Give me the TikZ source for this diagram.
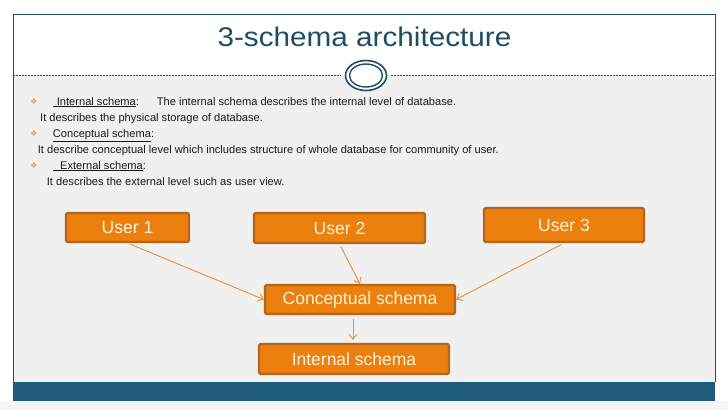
\documentclass[tikz,border=0pt]{standalone}
\usepackage{fontspec}
\setmainfont{Liberation Sans}
\newfontfamily\bulletfont{DejaVu Sans}
\usetikzlibrary{arrows.meta,calc}
\definecolor{framec}{HTML}{1F4D63}
\definecolor{titlec}{HTML}{1F4D63}
\definecolor{bandc}{HTML}{1F5B7C}
\definecolor{bgc}{HTML}{F0F0F0}
\definecolor{boxfill}{HTML}{EB800F}
\definecolor{boxline}{HTML}{B5651D}
\definecolor{boxtext}{HTML}{FFF3D9}
\definecolor{arrowc}{HTML}{E8913A}
\definecolor{bulletc}{HTML}{F0A050}
\definecolor{bodytext}{HTML}{1A1A1A}
\tikzset{
  obox/.style={draw=boxline, line width=2.2pt, fill=boxfill, rounded corners=1.5pt,
    inner sep=0pt, text=boxtext, font=\fontsize{17.5}{20}\selectfont},
  conn/.style={draw=arrowc, line width=0.9pt, -{Straight Barb[length=5pt,width=8pt]}},
  body/.style={anchor=base west, inner sep=0pt, text=bodytext, font=\fontsize{11.1}{13}\selectfont},
  bul/.style={inner sep=0pt, text=bulletc, font=\bulletfont\fontsize{8}{9}\selectfont}
}
\begin{document}
\begin{tikzpicture}[x=1pt,y=-1pt]
\useasboundingbox (0,0) rectangle (728,410);
% backgrounds
\fill[white] (0,0) rectangle (728,410);
\fill[bgc] (13,75) rectangle (715,382);
\fill[bgc!60] (0,401) rectangle (728,410);
% frame
\draw[framec, line width=0.8pt] (13,382) -- (13,14) -- (715,14) -- (715,382);
\fill[bandc] (13,382) rectangle (715,401);
% title
\node[inner sep=0pt, text=titlec, font=\fontsize{27}{30}\selectfont, anchor=base] (title) at (364.5,46) {\scalebox{1.1}[1]{3-schema architecture}};
% dashed divider with double ellipse
\draw[framec, line width=0.6pt, dash pattern=on 2pt off 1pt] (13,75) -- (341,75);
\draw[framec, line width=0.6pt, dash pattern=on 2pt off 1pt] (391,75) -- (715,75);
\draw[framec, line width=1.6pt, fill=white] (366,75.5) ellipse [x radius=20.5, y radius=15];
\draw[framec, line width=1.4pt] (366,75.5) ellipse [x radius=16.5, y radius=11.5];
% bullets and text
\node[bul] (b1) at (34,102) {❖};
\node[body] (t1a) at (52.7,105) {\underline{\hspace{4pt}Internal schema}:};
\node[body] (t1b) at (156.7,105) {The internal schema describes the internal level of database.};
\node[body] (t2) at (40,121) {It describes the physical storage of database.};
\node[bul] (b2) at (34,134) {❖};
\node[body] (t3) at (52.7,137) {\underline{Conceptual schema}:};
\node[body] (t4) at (37.7,153) {It describe conceptual level which includes structure of whole database for community of user.};
\node[bul] (b3) at (34,166) {❖};
\node[body] (t5) at (53,169) {\underline{\hspace{7pt}External schema}:};
\node[body] (t6) at (46.7,185) {It describes the external level such as user view.};
% boxes
\node[obox, minimum width=123pt, minimum height=29pt] (u1) at (127.5,227.5) {User 1};
\node[obox, minimum width=171pt, minimum height=30pt] (u2) at (339.5,228) {User 2};
\node[obox, minimum width=160pt, minimum height=34pt] (u3) at (564,225) {User 3};
\node[obox, minimum width=190pt, minimum height=29pt] (con) at (360,299.5) {Conceptual schema};
\node[obox, minimum width=190pt, minimum height=30pt] (int) at (354,359) {Internal schema};
% connectors
\draw[conn, shorten <=3pt] (u1.south) -- (con.west);
\draw[conn, shorten <=3pt] (u2.south) -- (con.north);
\draw[conn, shorten <=3pt] (u3.south) -- (con.east);
\draw[conn, shorten <=4pt, shorten >=3pt] ($(con.south)+(-7,0)$) -- ($(int.north)+(-1,0)$);
\end{tikzpicture}
\end{document}
